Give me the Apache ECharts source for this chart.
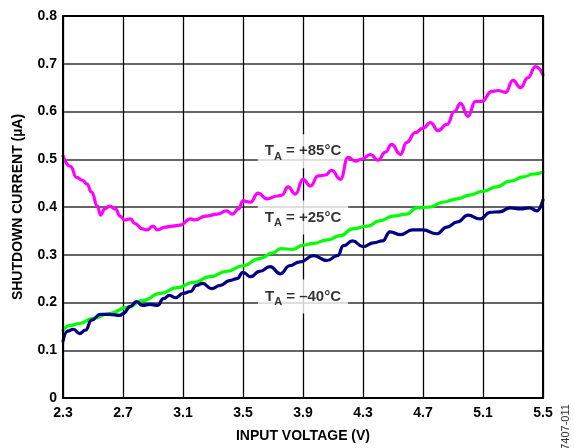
<!DOCTYPE html>
<html>
<head>
<meta charset="utf-8">
<script src="https://cdn.jsdelivr.net/npm/echarts@6/dist/echarts.min.js"></script>
<style>
  html, body { margin: 0; padding: 0; background: #fff; }
  #chart { width: 574px; height: 448px; }
</style>
</head>
<body>
<div id="chart"></div>
<script>
// Shutdown current vs input voltage at three ambient temperatures
const X_MIN = 2.3, X_MAX = 5.5, X_STEP = 0.4;

// T_A = +85°C
const volts85 = [2.30,2.35,2.39,2.43,2.46,2.49,2.53,2.55,2.58,2.61,2.65,2.68,2.71,2.75,2.78,2.83,2.86,2.90,2.93,2.98,3.03,3.08,3.15,3.18,3.25,3.33,3.39,3.43,3.47,3.50,3.55,3.60,3.66,3.73,3.76,3.80,3.85,3.90,3.95,4.00,4.05,4.09,4.15,4.20,4.25,4.29,4.35,4.40,4.45,4.49,4.55,4.59,4.65,4.70,4.75,4.80,4.86,4.91,4.95,5.00,5.05,5.09,5.16,5.20,5.25,5.30,5.35,5.40,5.45,5.50];
const current85 = [0.507,0.485,0.462,0.456,0.448,0.431,0.402,0.383,0.396,0.402,0.396,0.381,0.373,0.375,0.365,0.354,0.352,0.360,0.352,0.358,0.360,0.362,0.375,0.373,0.381,0.385,0.392,0.385,0.396,0.413,0.410,0.429,0.417,0.423,0.425,0.442,0.427,0.458,0.444,0.465,0.467,0.477,0.458,0.504,0.496,0.500,0.510,0.498,0.515,0.531,0.510,0.535,0.556,0.565,0.577,0.560,0.573,0.600,0.617,0.590,0.621,0.621,0.642,0.644,0.640,0.665,0.650,0.671,0.694,0.677];

// T_A = +25°C
const volts25 = [2.30,2.35,2.41,2.50,2.61,2.73,2.83,2.95,3.06,3.17,3.28,3.39,3.50,3.61,3.70,3.75,3.83,3.90,3.97,4.06,4.15,4.23,4.33,4.41,4.50,4.59,4.66,4.75,4.83,4.93,5.01,5.10,5.19,5.28,5.37,5.43,5.50];
const current25 = [0.142,0.152,0.156,0.167,0.177,0.190,0.204,0.219,0.231,0.242,0.254,0.265,0.277,0.292,0.304,0.313,0.311,0.320,0.324,0.331,0.340,0.354,0.360,0.371,0.381,0.385,0.398,0.400,0.410,0.417,0.425,0.433,0.442,0.454,0.463,0.469,0.473];

// T_A = -40°C
const voltsN40 = [2.30,2.33,2.37,2.41,2.45,2.49,2.55,2.61,2.68,2.70,2.75,2.79,2.83,2.88,2.93,2.97,3.01,3.05,3.10,3.15,3.19,3.23,3.29,3.35,3.41,3.46,3.50,3.55,3.61,3.68,3.75,3.81,3.88,3.97,4.06,4.13,4.17,4.23,4.30,4.37,4.43,4.48,4.55,4.63,4.70,4.79,4.86,4.93,5.00,5.08,5.15,5.21,5.28,5.35,5.41,5.46,5.50];
const currentN40 = [0.119,0.140,0.144,0.135,0.142,0.163,0.175,0.175,0.173,0.177,0.192,0.202,0.194,0.196,0.194,0.208,0.215,0.210,0.219,0.223,0.236,0.240,0.229,0.236,0.246,0.250,0.263,0.254,0.265,0.275,0.260,0.277,0.285,0.298,0.288,0.298,0.319,0.329,0.317,0.325,0.329,0.348,0.342,0.352,0.352,0.344,0.358,0.369,0.383,0.375,0.389,0.390,0.398,0.396,0.398,0.392,0.415];

// Curve annotations
const curveNames = ['+85°C', '+25°C', '–40°C'];
const noteVolts = [3.9, 3.9, 3.9];
const noteCurrent = [0.517, 0.378, 0.2125];

const FONT = 'Arial, "Liberation Sans", sans-serif';

// x values are offset from X_MIN so ticks fall on 2.3, 2.7, ... 5.5
const toPairs = (vs, is) => vs.map((v, k) => [v - X_MIN, is[k]]);

function curve(name, vs, is, color) {
  return {
    type: 'line', name: name, data: toPairs(vs, is),
    showSymbol: false, smooth: 0.5, smoothMonotone: 'x',
    lineStyle: { color: color, width: 3.2, cap: 'round', join: 'round' }, itemStyle: { color: color },
    silent: true, z: 3
  };
}

const chart = echarts.init(document.getElementById('chart'), null, { renderer: 'canvas' });
chart.setOption({
  animation: false,
  backgroundColor: '#fff',
  grid: { left: 63, right: 31, top: 16, bottom: 48, show: true, borderColor: '#000', borderWidth: 2, z: 4 },
  xAxis: {
    type: 'value', min: 0, max: X_MAX - X_MIN, interval: X_STEP,
    name: 'INPUT VOLTAGE (V)', nameLocation: 'middle', nameGap: 31,
    nameTextStyle: { fontFamily: FONT, fontWeight: 'bold', fontSize: 14, color: '#000' },
    axisLine: { show: false }, axisTick: { show: false },
    axisLabel: { fontFamily: FONT, fontWeight: 'bold', fontSize: 14, color: '#000', margin: 8,
      formatter: v => (v + X_MIN).toFixed(1) },
    splitLine: { show: true, lineStyle: { color: '#000', width: 1.3 } }
  },
  yAxis: {
    type: 'value', min: 0, max: 0.8, interval: 0.1,
    name: 'SHUTDOWN CURRENT (µA)', nameLocation: 'middle', nameGap: 38,
    nameTextStyle: { fontFamily: FONT, fontWeight: 'bold', fontSize: 14, color: '#000' },
    axisLine: { show: false }, axisTick: { show: false },
    axisLabel: { fontFamily: FONT, fontWeight: 'bold', fontSize: 14, color: '#000', margin: 6,
      formatter: v => (v === 0 ? '0' : v.toFixed(1)) },
    splitLine: { show: true, lineStyle: { color: '#333', width: 1.5 } }
  },
  series: [
    curve('+85°C', volts85, current85, '#ff00ff'),
    curve('+25°C', volts25, current25, '#00ff00'),
    curve('-40°C', voltsN40, currentN40, '#000080'),
    {
      type: 'scatter', silent: true, z: 2,
      symbolSize: 1, itemStyle: { color: 'rgba(0,0,0,0)' },
      data: noteVolts.map((v, k) => ({ value: [v - X_MIN, noteCurrent[k]], name: curveNames[k] })),
      label: {
        show: true, position: 'inside',
        backgroundColor: '#fff', padding: [6, 7, 6, 7],
        formatter: p => '{t|T}{s|A}{t| = ' + p.name + '}',
        rich: {
          t: { fontFamily: FONT, fontWeight: 'bold', fontSize: 15, color: '#000', lineHeight: 22 },
          s: { fontFamily: FONT, fontWeight: 'bold', fontSize: 11, color: '#000', lineHeight: 12, verticalAlign: 'bottom' }
        }
      }
    }
  ],
  graphic: [{
    type: 'text', x: 566, y: 430, rotation: Math.PI / 2,
    style: { text: '07407-011', font: '11px ' + FONT, fill: '#333', align: 'center', verticalAlign: 'middle' }
  }]
});
</script>
</body>
</html>
